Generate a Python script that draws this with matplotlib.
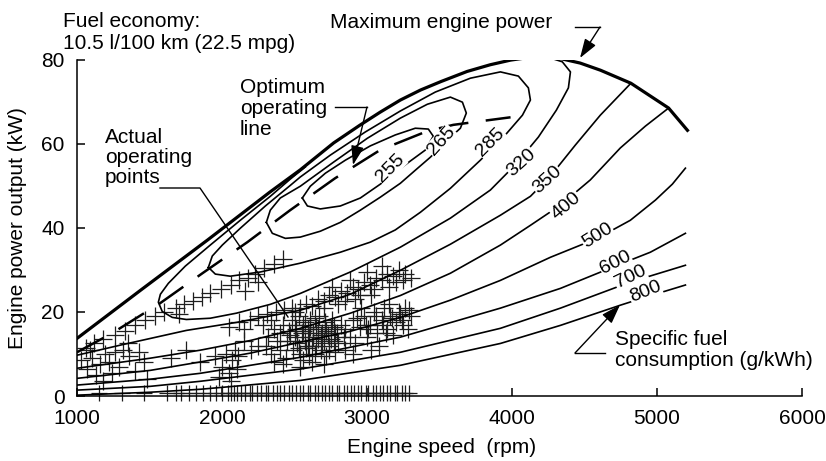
import matplotlib
matplotlib.use("Agg")
import numpy as np
import matplotlib.pyplot as plt
from matplotlib.lines import Line2D

plt.rcParams['font.family'] = ['Liberation Sans', 'DejaVu Sans']

W, H = 826, 461  # tamaño de la figura en pixeles

# curva de potencia maxima (rpm, kW)
max_rpm = [1000, 1440, 1900, 2330, 2540, 2770, 2950, 3090, 3230, 3370, 3510,
           3690, 3850, 3990, 4110, 4220, 4330, 4470, 4610, 4820, 5080, 5210]
max_kw = [13.7, 25.2, 37.1, 48.5, 53.8, 60.2, 64.4, 67.5, 70.4, 72.8, 74.8,
          77.2, 78.8, 79.9, 80.5, 80.7, 80.3, 79.2, 77.5, 74.4, 68.5, 63.2]

# linea de operacion optima
opt_rpm = [1000, 1240, 1570, 1865, 2175, 2470, 2780, 3090, 3415, 3595, 3835, 3990]
opt_kw = [10.4, 14.9, 22.0, 29.2, 36.6, 44.2, 51.8, 58.5, 63.0, 64.5, 65.6, 66.3]

# consumo especifico (g/kWh): curvas de nivel
bsfc255_rpm = [2554, 2609, 2713, 2851, 3023, 3195, 3333, 3423, 3457, 3402, 3299,
               3195, 3092, 2954, 2816, 2678, 2589, 2554]
bsfc255_kw = [47.1, 49.9, 53.0, 56.1, 59.5, 62.1, 63.7, 63.5, 61.8, 58.5, 55.9,
              53.2, 50.4, 47.1, 45.2, 44.5, 45.2, 47.1]

bsfc265_rpm = [2306, 2333, 2402, 2540, 2768, 3002, 3230, 3416, 3575, 3658, 3685,
               3644, 3540, 3437, 3333, 3230, 3092, 2954, 2816, 2678, 2540, 2437,
               2347, 2306]
bsfc265_kw = [41.3, 44.2, 47.1, 49.9, 55.6, 61.3, 66.1, 69.4, 71.1, 69.9, 67.3,
              63.7, 60.4, 56.8, 53.7, 50.6, 47.3, 44.2, 41.3, 39.2, 37.8, 37.5,
              38.7, 41.3]

bsfc285_rpm = [1906, 1933, 2002, 2126, 2299, 2471, 2540, 2747, 2988, 3230, 3471,
               3713, 3920, 4044, 4113, 4127, 4072, 3954, 3782, 3575, 3368, 3195,
               3023, 2816, 2540, 2264, 2057, 1954, 1906]
bsfc285_kw = [30.6, 33.3, 35.9, 39.9, 45.2, 50.1, 52.1, 57.3, 62.8, 67.8, 72.3,
              75.6, 77.1, 76.1, 73.3, 70.4, 66.8, 62.1, 56.1, 49.4, 43.7, 39.5,
              36.6, 34.2, 31.6, 29.5, 28.5, 29.0, 30.6]

bsfc320_rpm = [2575, 2471, 2333, 2126, 1919, 1747, 1630, 1575, 1561, 1588, 1657,
               1754, 1919, 2099, 2333, 2540, 2885, 3230, 3575, 3851, 4023, 4182,
               4306, 4389, 4403, 4347, 4265, 4216]
bsfc320_kw = [54.5, 51.6, 47.5, 41.8, 35.9, 30.9, 26.8, 24.2, 22.3, 20.1, 18.7,
              18.2, 18.5, 19.7, 21.8, 24.4, 29.5, 35.4, 42.3, 49.0, 55.0, 61.6,
              68.0, 73.3, 77.1, 79.5, 80.4, 80.6]

bsfc350_rpm = [1000, 1299, 1754, 2099, 2540, 2885, 3230, 3575, 3920, 4127, 4265,
               4437, 4609, 4820]
bsfc350_kw = [9.7, 12.1, 15.6, 17.5, 20.4, 24.2, 29.9, 36.1, 43.0, 47.5, 52.3,
              59.7, 66.8, 74.4]

bsfc400_rpm = [1000, 1506, 1850, 2195, 2540, 2885, 3230, 3575, 3920, 4127, 4334,
               4540, 4747, 4920, 5080]
bsfc400_kw = [6.6, 9.0, 10.9, 13.2, 16.1, 19.7, 23.9, 29.2, 35.9, 40.6, 45.4,
              51.4, 59.0, 64.2, 68.5]

bsfc500_rpm = [1000, 1506, 1850, 2195, 2540, 2885, 3230, 3575, 3920, 4265, 4588,
               4816, 4989, 5106, 5196]
bsfc500_kw = [4.2, 6.1, 8.1, 10.2, 12.8, 15.4, 18.7, 22.8, 27.5, 33.0, 37.5,
              41.8, 46.6, 50.4, 54.2]

bsfc600_rpm = [1000, 1506, 1850, 2540, 3230, 3920, 4334, 4712, 4954, 5196]
bsfc600_kw = [2.6, 4.0, 5.4, 9.2, 14.0, 20.9, 25.6, 30.9, 34.2, 38.7]

bsfc700_rpm = [1000, 1506, 1850, 2540, 3230, 3920, 4334, 4816, 5196]
bsfc700_kw = [1.4, 2.3, 3.5, 6.4, 10.4, 16.1, 20.9, 27.1, 31.1]

bsfc800_rpm = [1000, 1506, 1850, 2540, 3230, 3920, 4334, 4747, 4920, 5196]
bsfc800_kw = [0.2, 0.9, 1.6, 3.7, 7.3, 12.5, 16.8, 21.6, 23.5, 26.4]

# etiquetas de las curvas: valor, rpm, kW, angulo
label_vals = [255, 265, 285, 320, 350, 400, 500, 600, 700, 800]
label_rpm = [3161, 3513, 3851, 4065, 4244, 4375, 4588, 4712, 4816, 4920]
label_kw = [54.2, 60.6, 60.4, 55.6, 51.4, 45.2, 38.2, 31.8, 28.3, 24.7]
label_ang = [45, 48, 45, 42, 42, 40, 32, 27, 26, 22]

# puntos de operacion reales
op_rpm = [1060, 1120, 1180, 1260, 1330, 1400, 1470, 1540, 1600, 1680, 1740, 1800,
          1860, 1920, 1990, 2060, 2120, 2180, 2230, 2290, 2360, 2420, 2160, 2250,
          1700,
          1030, 1070, 1100, 1130, 1160, 1190, 1220, 1260, 1290, 1320, 1360, 1400,
          1430, 1460, 1480, 1240, 1090, 1180, 1350,
          1650, 1750, 1850, 1950, 2000, 2030, 2050, 2070, 2090, 2100, 2060, 2110,
          1980, 2200, 2250, 2150,
          2050, 2120, 2190, 2250, 2310, 2370, 2430, 2480, 2150, 2280, 2340,
          2300, 2320, 2340, 2360, 2380, 2400, 2400, 2420, 2440, 2450, 2460, 2480,
          2490, 2500, 2510, 2520, 2530, 2540, 2550, 2560, 2570, 2580, 2590, 2600,
          2610, 2620, 2630, 2640, 2650, 2660, 2670, 2680, 2690, 2700, 2710, 2720,
          2730, 2740, 2750, 2760, 2770, 2780, 2790, 2800, 2820, 2840, 2850, 2360,
          2420, 2560, 2620, 2700, 2540, 2600,
          2470, 2520, 2560, 2590, 2630, 2660, 2690, 2720, 2750, 2780, 2610, 2680,
          2500, 2570, 2640, 2710, 2770, 2530, 2650, 2740,
          2500, 2540, 2580, 2620, 2660, 2700, 2740, 2780, 2820, 2860, 2900, 2940,
          2980, 3020, 3060, 3100, 3140, 3180, 3220, 3260, 3000, 3100, 3200, 2880,
          2760, 3300, 2850, 2950, 3050, 3150, 3250, 2700, 2800, 2920, 3030,
          2850, 2880, 2900, 2920, 2950, 2980, 3000, 3020, 3050, 3070, 3100, 3120,
          3140, 3160, 3180, 3200, 3220, 3240, 3260, 3280, 3300, 2960, 3080, 3150,
          2900, 3030, 2930, 2990, 3060, 3110, 3170, 3230, 3290, 3010, 3130, 3250]
op_kw = [11.5, 12.5, 13.5, 14.5, 15.5, 17.0, 18.0, 19.0, 20.0, 21.0, 22.0, 22.5,
         23.5, 24.5, 25.5, 26.5, 27.5, 28.0, 29.0, 30.5, 31.5, 32.5, 25.0, 27.0,
         19.5,
         8.5, 6.5, 9.0, 5.0, 7.5, 10.0, 8.0, 10.5, 7.0, 11.0, 9.5, 6.0,
         10.5, 8.0, 4.0, 5.5, 11.0, 3.5, 12.5,
         9.0, 11.0, 8.0, 9.5, 7.0, 10.0, 5.5, 8.5, 11.0, 6.5, 3.5, 9.5,
         4.5, 11.0, 12.0, 13.0,
         16.5, 17.5, 18.0, 19.0, 19.5, 20.0, 20.5, 21.0, 16.0, 17.0, 18.0,
         12.0, 14.0, 10.0, 16.0, 13.0, 11.0, 15.0, 17.0, 9.0, 13.0, 15.5, 18.0,
         11.0, 14.0, 16.0, 12.5, 19.0, 10.0, 15.0, 17.0, 13.0, 11.5, 16.0, 14.0,
         18.0, 12.0, 15.0, 10.0, 16.5, 13.5, 19.0, 11.0, 15.0, 13.0, 17.0, 9.5,
         14.5, 12.0, 16.0, 18.0, 13.0, 10.5, 15.0, 12.5, 17.0, 14.0, 11.0, 8.0,
         7.5, 8.5, 8.0, 7.5, 7.0, 9.5,
         14.5, 13.0, 15.5, 12.0, 14.0, 16.0, 12.5, 15.5, 13.5, 15.0, 16.5, 14.5,
         17.0, 17.5, 18.5, 17.5, 16.5, 11.5, 12.0, 11.0,
         20.0, 21.0, 22.0, 21.5, 23.0, 22.5, 24.0, 23.5, 25.0, 24.5, 26.0, 25.5,
         27.0, 26.5, 28.0, 27.5, 29.0, 28.5, 30.0, 29.0, 29.5, 31.0, 27.0, 27.5,
         26.0, 28.0, 22.5, 24.0, 25.5, 26.0, 27.5, 21.0, 22.0, 23.0, 24.0,
         16.0, 14.0, 18.0, 12.5, 16.5, 19.0, 14.0, 17.0, 20.0, 15.0, 18.0, 21.0,
         16.0, 19.0, 14.5, 17.5, 20.0, 18.0, 21.0, 16.0, 19.0, 21.0, 12.0, 22.0,
         10.0, 11.0, 18.5, 17.0, 19.0, 17.0, 18.5, 19.5, 20.5, 16.0, 15.0, 17.0]

# puntos en ralenti / potencia nula
idle_rpm = [1150, 1310, 1460, 1620, 1680, 1720, 1770, 1820, 1870, 1920, 1960,
            2000, 2040, 2060, 2080, 2100, 2130, 2160, 2190, 2210, 2240, 2270,
            2300, 2320, 2350, 2380, 2400, 2430, 2460, 2480, 2510, 2540, 2560,
            2590, 2610, 2640, 2660, 2690, 2710, 2740, 2760, 2790, 2810, 2840,
            2860, 2890, 2910, 2940, 2960, 2990, 3010, 3040, 3060, 3090, 3110,
            3140, 3160, 3190, 3210, 3240, 3260, 3290]
idle_kw = 0.6

contours = [(bsfc255_rpm, bsfc255_kw), (bsfc265_rpm, bsfc265_kw),
            (bsfc285_rpm, bsfc285_kw), (bsfc320_rpm, bsfc320_kw),
            (bsfc350_rpm, bsfc350_kw), (bsfc400_rpm, bsfc400_kw),
            (bsfc500_rpm, bsfc500_kw), (bsfc600_rpm, bsfc600_kw),
            (bsfc700_rpm, bsfc700_kw), (bsfc800_rpm, bsfc800_kw)]


def fpx(x, y):
    # pixel (origen arriba a la izquierda) -> fraccion de figura
    return x / W, 1 - y / H


fig = plt.figure(figsize=(W / 100, H / 100), dpi=100)
ax = fig.add_axes([77 / W, 65 / H, 725 / W, 336.3 / H])

# puntos de operacion
ax.plot(op_rpm, op_kw, '+', ms=13, mew=0.9, color='#1e1e1e', zorder=2)
ax.plot(idle_rpm, np.full(len(idle_rpm), idle_kw), '+', ms=11, mew=0.9,
        color='#1e1e1e', clip_on=False, zorder=2)

# curvas de nivel
for rpm, kw in contours:
    ax.plot(rpm, kw, color='black', lw=1.2, solid_joinstyle='round', zorder=3)

ax.plot(max_rpm, max_kw, color='black', lw=2.3, solid_joinstyle='round', zorder=3)
ax.plot(opt_rpm, opt_kw, color='black', lw=1.8, linestyle=(0, (12, 7)), zorder=3)

for v, x, y, a in zip(label_vals, label_rpm, label_kw, label_ang):
    ax.text(x, y, str(v), fontsize=14, rotation=a, ha='center', va='center',
            rotation_mode='anchor', zorder=4,
            bbox=dict(facecolor='white', edgecolor='none', pad=0.3))

ax.set_xlim(1000, 6000)
ax.set_ylim(0, 80)
ax.set_xticks(range(1000, 6001, 1000))
ax.set_yticks(range(0, 81, 20))
for s in ['top', 'right']:
    ax.spines[s].set_visible(False)
for s in ['left', 'bottom']:
    ax.spines[s].set_linewidth(1.1)
ax.tick_params(direction='in', length=6, width=1.1, pad=9, labelsize=15)

# titulos de ejes
fig.text(442 / W, 1 - 447 / H, 'Engine speed  (rpm)', fontsize=15,
         ha='center', va='center')
fig.text(18 / W, 1 - 228 / H, 'Engine power output (kW)', fontsize=15,
         ha='center', va='center', rotation=90)

# textos
fig.text(*fpx(63, 27), 'Fuel economy:', fontsize=15, va='baseline')
fig.text(*fpx(63, 49), '10.5 l/100 km (22.5 mpg)', fontsize=15, va='baseline')
fig.text(*fpx(330, 28), 'Maximum engine power', fontsize=15, va='baseline')
for i, t in enumerate(['Optimum', 'operating', 'line']):
    fig.text(*fpx(240, 93 + 21 * i), t, fontsize=15, va='baseline')
for i, t in enumerate(['Actual', 'operating', 'points']):
    fig.text(*fpx(105, 143 + 20 * i), t, fontsize=15, va='baseline')
fig.text(*fpx(615, 345), 'Specific fuel', fontsize=15, va='baseline')
fig.text(*fpx(615, 366), 'consumption (g/kWh)', fontsize=15, va='baseline')


def leader(pts, arrow=True):
    xs = [fpx(*p)[0] for p in pts]
    ys = [fpx(*p)[1] for p in pts]
    if arrow:
        fig.add_artist(Line2D(xs[:-1], ys[:-1], transform=fig.transFigure,
                              color='black', lw=1.0))
        ax.annotate('', xy=(xs[-1], ys[-1]), xycoords='figure fraction',
                    xytext=(xs[-2], ys[-2]), textcoords='figure fraction',
                    annotation_clip=False,
                    arrowprops=dict(arrowstyle='-|>,head_length=0.9,head_width=0.3',
                                    color='black', lw=1.0, shrinkA=0, shrinkB=0,
                                    mutation_scale=13))
    else:
        fig.add_artist(Line2D(xs, ys, transform=fig.transFigure,
                              color='black', lw=1.0))


leader([(575, 27), (600, 27), (580, 58)])
leader([(335, 107), (367, 107), (353, 165)])
leader([(160, 188), (200, 188), (288, 317)], arrow=False)
leader([(605, 353), (575, 353), (620, 305)])

fig.savefig('out.png', dpi=100)
